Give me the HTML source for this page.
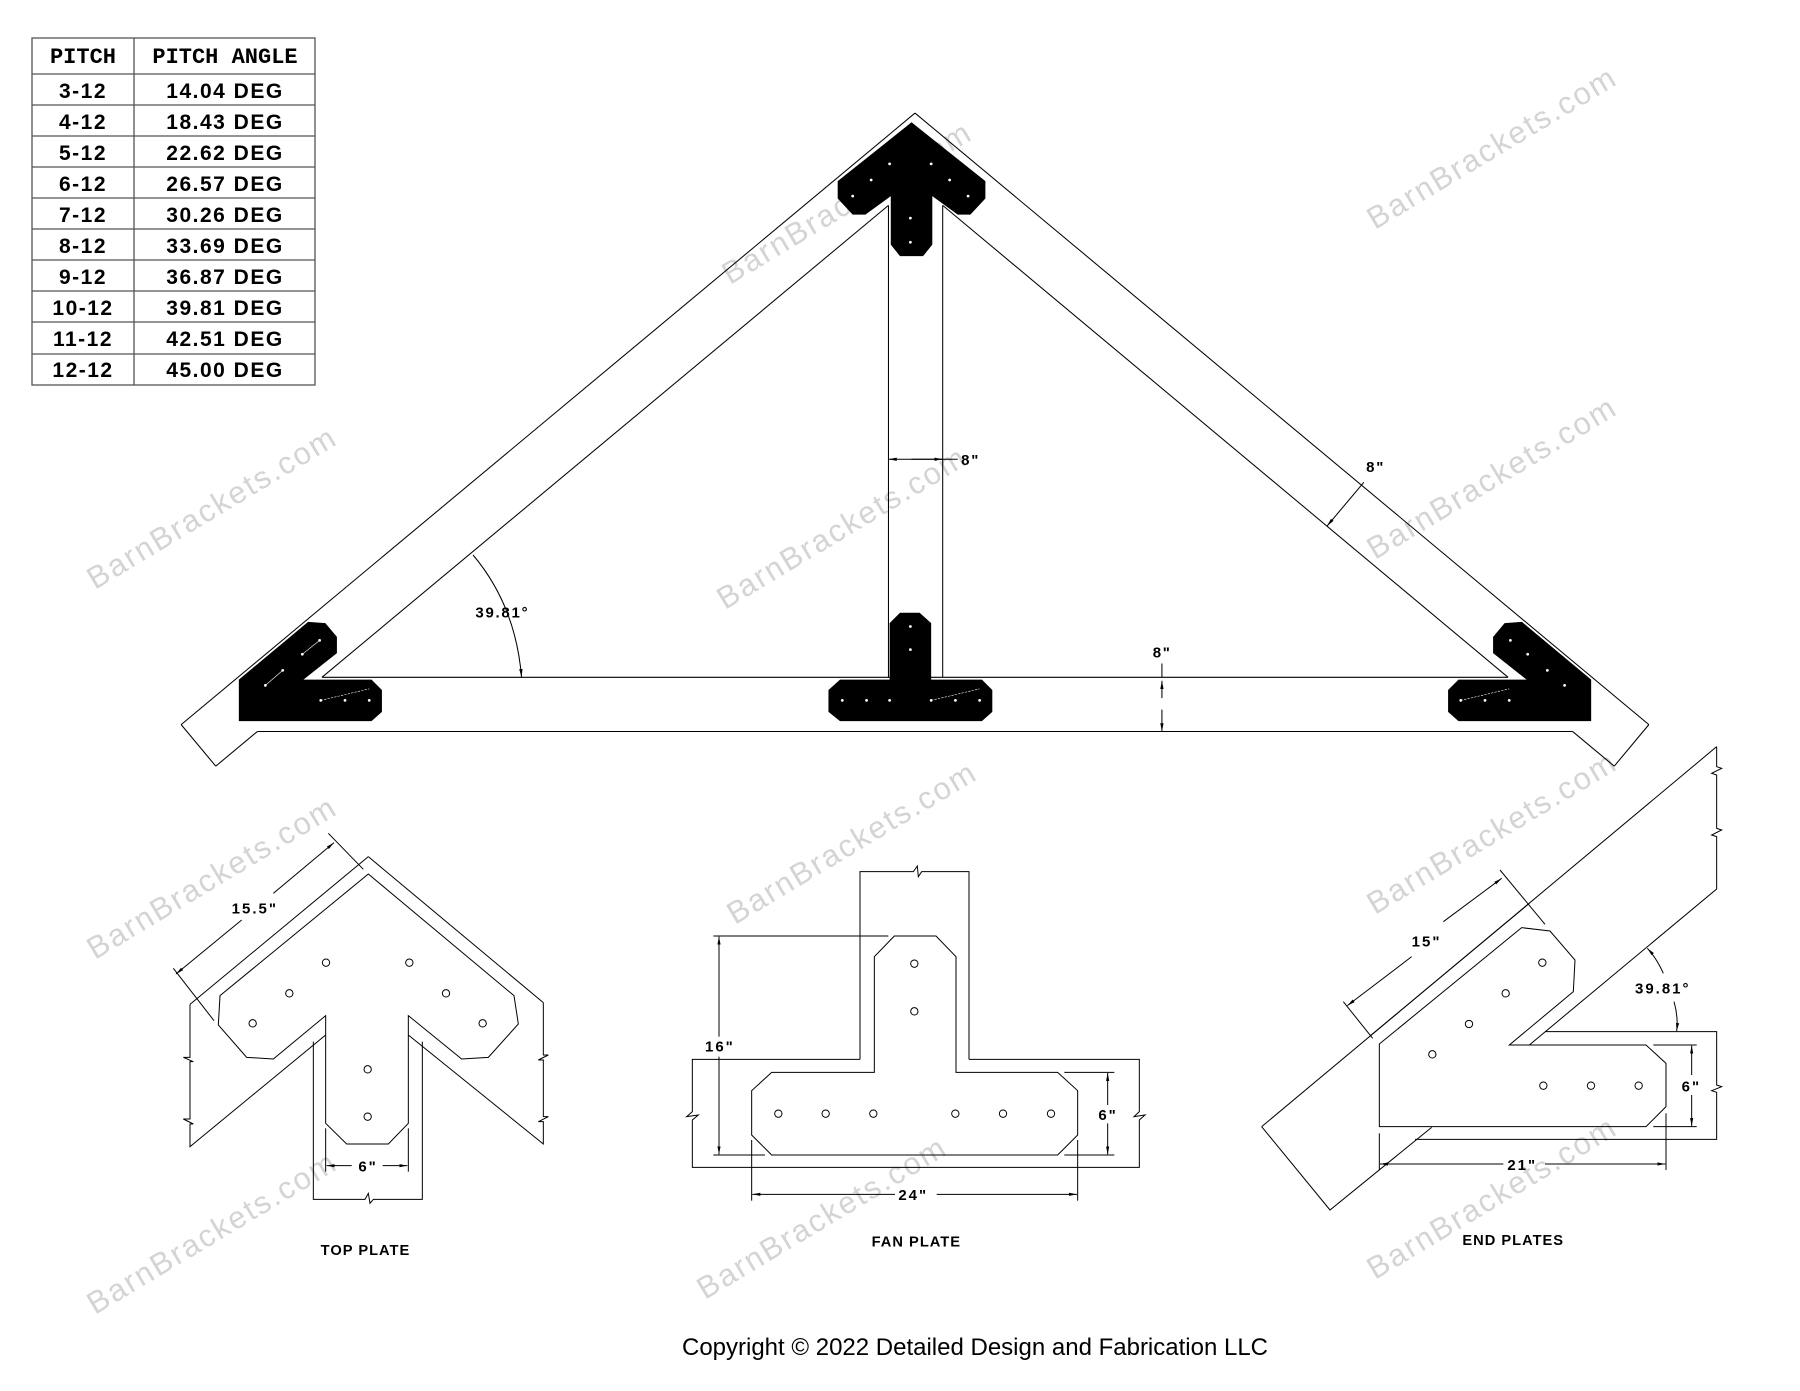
<!DOCTYPE html>
<html><head><meta charset="utf-8"><style>
html,body{margin:0;padding:0;background:#fff;}
svg{display:block;}
text{font-family:"Liberation Sans",sans-serif;}
.t{font-weight:bold;fill:#000;}
.wm{font-family:"Liberation Sans",sans-serif;font-size:31px;fill:#d4d4d4;letter-spacing:2px;}
</style></head><body>
<svg width="1800" height="1391" viewBox="0 0 1800 1391" xmlns="http://www.w3.org/2000/svg">
<defs>
<marker id="ar" viewBox="0 0 10 10" refX="10" refY="5" markerWidth="8" markerHeight="8" orient="auto-start-reverse"><path d="M0,3 L10,5 L0,7 z" fill="#000"/></marker>
</defs>
<rect width="1800" height="1391" fill="#fff"/>

<g>
<text class="wm" transform="translate(95,590) rotate(-31)">BarnBrackets.com</text>
<text class="wm" transform="translate(730,285) rotate(-31)">BarnBrackets.com</text>
<text class="wm" transform="translate(1375,230) rotate(-31)">BarnBrackets.com</text>
<text class="wm" transform="translate(725,610) rotate(-31)">BarnBrackets.com</text>
<text class="wm" transform="translate(1375,560) rotate(-31)">BarnBrackets.com</text>
<text class="wm" transform="translate(95,960) rotate(-31)">BarnBrackets.com</text>
<text class="wm" transform="translate(735,925) rotate(-31)">BarnBrackets.com</text>
<text class="wm" transform="translate(1375,915) rotate(-31)">BarnBrackets.com</text>
<text class="wm" transform="translate(95,1315) rotate(-31)">BarnBrackets.com</text>
<text class="wm" transform="translate(705,1300) rotate(-31)">BarnBrackets.com</text>
<text class="wm" transform="translate(1375,1280) rotate(-31)">BarnBrackets.com</text>
</g>

<g stroke="#555" stroke-width="1.3" fill="none">
<rect x="32" y="38" width="283" height="347"/>
<line x1="134" y1="38" x2="134" y2="385"/>
<line x1="32" y1="74" x2="315" y2="74"/>
<line x1="32" y1="105" x2="315" y2="105"/>
<line x1="32" y1="136" x2="315" y2="136"/>
<line x1="32" y1="167" x2="315" y2="167"/>
<line x1="32" y1="198" x2="315" y2="198"/>
<line x1="32" y1="229" x2="315" y2="229"/>
<line x1="32" y1="260" x2="315" y2="260"/>
<line x1="32" y1="291" x2="315" y2="291"/>
<line x1="32" y1="322" x2="315" y2="322"/>
<line x1="32" y1="354" x2="315" y2="354"/>
</g>
<g font-size="21" fill="#000" font-weight="bold">
<text x="83" y="63" text-anchor="middle" style="font-family:'Liberation Mono',monospace;font-weight:bold;font-size:22px">PITCH</text>
<text x="225" y="63" text-anchor="middle" style="font-family:'Liberation Mono',monospace;font-weight:bold;font-size:22px">PITCH ANGLE</text>
<g text-anchor="middle" letter-spacing="1.5">
<text x="83" y="98">3-12</text><text x="225" y="98">14.04 DEG</text>
<text x="83" y="129">4-12</text><text x="225" y="129">18.43 DEG</text>
<text x="83" y="160">5-12</text><text x="225" y="160">22.62 DEG</text>
<text x="83" y="191">6-12</text><text x="225" y="191">26.57 DEG</text>
<text x="83" y="222">7-12</text><text x="225" y="222">30.26 DEG</text>
<text x="83" y="253">8-12</text><text x="225" y="253">33.69 DEG</text>
<text x="83" y="284">9-12</text><text x="225" y="284">36.87 DEG</text>
<text x="83" y="315">10-12</text><text x="225" y="315">39.81 DEG</text>
<text x="83" y="346">11-12</text><text x="225" y="346">42.51 DEG</text>
<text x="83" y="377">12-12</text><text x="225" y="377">45.00 DEG</text>
</g></g>

<g transform="scale(1.15385)">
<g stroke="#000" stroke-width="0.9" fill="none">
<line x1="793" y1="98" x2="157" y2="628"/>
<line x1="157" y1="628" x2="187" y2="664"/>
<line x1="187" y1="664" x2="223" y2="634"/>
<line x1="279" y1="587" x2="770" y2="178"/>
<line x1="793" y1="98" x2="1429" y2="628"/>
<line x1="1429" y1="628" x2="1399" y2="664"/>
<line x1="1399" y1="664" x2="1363" y2="634"/>
<line x1="1307" y1="587" x2="817" y2="178"/>
<line x1="279" y1="587" x2="1307" y2="587"/>
<line x1="223" y1="634" x2="1363" y2="634"/>
<line x1="770" y1="178" x2="770" y2="587"/>
<line x1="817" y1="178" x2="817" y2="587"/>
</g>
<g fill="#000">
<polygon points="790,106 726,157 726,172 739,186 750,186 772,170 772,212 780,222 800,222 808,212 808,170 830,186 841,186 854,172 854,157"/>
<polygon points="267,539 282,540 292,552 292,566 263,589 322,589 331,598 331,617 322,625 207,625 207,589"/>
<polygon points="1319,539 1304,540 1294,552 1294,566 1323,589 1264,589 1255,598 1255,617 1264,625 1379,625 1379,589"/>
<polygon points="780,531 797,531 807,540 807,589 851,589 860,598 860,617 851,625 728,625 718,617 718,598 728,589 771,589 771,540"/>
</g>
<g fill="#fff">
<circle cx="771" cy="142" r="1.2"/><circle cx="755" cy="156" r="1.2"/><circle cx="739" cy="170" r="1.2"/>
<circle cx="807" cy="142" r="1.2"/><circle cx="823" cy="156" r="1.2"/><circle cx="839" cy="170" r="1.2"/>
<circle cx="789" cy="189" r="1.2"/><circle cx="789" cy="210" r="1.2"/>
<circle cx="230" cy="594" r="1.2"/><circle cx="245" cy="581" r="1.2"/><circle cx="262" cy="567" r="1.2"/><circle cx="277" cy="555" r="1.2"/>
<circle cx="278" cy="607" r="1.2"/><circle cx="299" cy="607" r="1.2"/><circle cx="320" cy="607" r="1.2"/>
<circle cx="1356" cy="594" r="1.2"/><circle cx="1341" cy="581" r="1.2"/><circle cx="1324" cy="567" r="1.2"/><circle cx="1309" cy="555" r="1.2"/>
<circle cx="1308" cy="607" r="1.2"/><circle cx="1287" cy="607" r="1.2"/><circle cx="1266" cy="607" r="1.2"/>
<circle cx="730" cy="607" r="1.2"/><circle cx="751" cy="607" r="1.2"/><circle cx="771" cy="607" r="1.2"/>
<circle cx="807" cy="607" r="1.2"/><circle cx="828" cy="607" r="1.2"/><circle cx="849" cy="607" r="1.2"/>
<circle cx="789" cy="543" r="1.2"/><circle cx="789" cy="563" r="1.2"/>
</g>
<g stroke="#fff" stroke-width="0.5" fill="none">
<line x1="230" y1="594" x2="245" y2="581"/><line x1="262" y1="567" x2="277" y2="555"/>
<line x1="278" y1="607" x2="320" y2="597" stroke-dasharray="2,1"/>
<line x1="807" y1="607" x2="849" y2="597" stroke-dasharray="2,1"/>
<line x1="1266" y1="607" x2="1308" y2="597" stroke-dasharray="2,1"/>
</g>
<g stroke="#000" stroke-width="0.9" fill="none">
<line x1="770" y1="398" x2="830" y2="398" marker-start="url(#ar)"/>
<line x1="790" y1="398" x2="817" y2="398" marker-end="url(#ar)"/>
<line x1="1150" y1="456" x2="1182" y2="418" marker-start="url(#ar)"/>
<line x1="1007" y1="575" x2="1007" y2="587" />
<line x1="1007" y1="590" x2="1007" y2="605" marker-start="url(#ar)"/>
<line x1="1007" y1="615" x2="1007" y2="634" marker-end="url(#ar)"/>
<path d="M410,481 Q447,525 452,587" marker-end="url(#ar)"/>
</g>
<g class="t" font-size="13" letter-spacing="1.5">
<text x="833" y="403">8"</text>
<text x="1184" y="409">8"</text>
<text x="999" y="570">8"</text>
<text x="412" y="535">39.81°</text>
</g>
</g>

<g transform="translate(160,820) scale(0.33333)">
<g stroke="#000" stroke-width="3" fill="none">
<line x1="625" y1="110" x2="90" y2="553"/>
<line x1="625" y1="110" x2="1150" y2="548"/>
<polyline points="90,553 90,712 70,712 100,725 90,725 90,897 70,897 100,912 90,912 90,980 497,645"/>
<polyline points="1150,548 1150,705 1165,705 1135,720 1150,720 1150,890 1165,890 1135,905 1150,905 1150,972 745,645"/>
<polyline points="460,665 460,1138 615,1138 625,1120 630,1150 640,1138 787,1138 787,665"/>
<polygon points="625,162 180,527 175,615 260,712 340,717 497,587 497,910 560,972 685,972 745,910 745,587 905,717 985,712 1075,612 1062,527"/>
<line x1="40" y1="445" x2="162" y2="602"/>
<line x1="505" y1="40" x2="610" y2="148"/>
<line x1="48" y1="462" x2="245" y2="300" marker-start="url(#ar)"/>
<line x1="340" y1="220" x2="522" y2="68" marker-end="url(#ar)"/>
<line x1="497" y1="925" x2="497" y2="1055"/>
<line x1="745" y1="925" x2="745" y2="1055"/>
<line x1="500" y1="1037" x2="575" y2="1037" marker-start="url(#ar)"/>
<line x1="668" y1="1037" x2="742" y2="1037" marker-end="url(#ar)"/>
<circle cx="498" cy="428" r="11"/><circle cx="748" cy="428" r="11"/><circle cx="388" cy="520" r="11"/><circle cx="858" cy="520" r="11"/>
<circle cx="278" cy="610" r="11"/><circle cx="968" cy="610" r="11"/><circle cx="623" cy="748" r="11"/><circle cx="623" cy="890" r="11"/>
</g>
<g class="t" font-size="45" letter-spacing="6">
<text x="215" y="280">15.5"</text>
<text x="595" y="1055">6"</text>
<text x="482" y="1305" font-size="44" letter-spacing="3">TOP PLATE</text>
</g>
</g>

<g transform="translate(680,860) scale(0.33333)">
<g stroke="#000" stroke-width="3" fill="none">
<polyline points="540,598 540,35 700,35 712,18 715,50 725,35 867,35 867,598"/>
<polyline points="540,598 37,598 37,755 20,770 55,765 37,780 37,922 1378,922 1378,780 1395,765 1362,770 1378,755 1378,598 867,598"/>
<polygon points="643,228 768,228 828,290 828,637 1133,637 1193,692 1193,825 1133,885 275,885 215,825 215,692 275,637 583,637 583,290"/>
<circle cx="703" cy="311" r="11"/><circle cx="703" cy="454" r="11"/>
<circle cx="295" cy="761" r="11"/><circle cx="437" cy="761" r="11"/><circle cx="580" cy="761" r="11"/>
<circle cx="826" cy="761" r="11"/><circle cx="969" cy="761" r="11"/><circle cx="1113" cy="761" r="11"/>
<line x1="100" y1="228" x2="625" y2="228"/>
<line x1="100" y1="885" x2="255" y2="885"/>
<line x1="117" y1="230" x2="117" y2="530" marker-start="url(#ar)"/>
<line x1="117" y1="590" x2="117" y2="883" marker-end="url(#ar)"/>
<line x1="1153" y1="637" x2="1303" y2="637"/>
<line x1="1153" y1="885" x2="1303" y2="885"/>
<line x1="1283" y1="639" x2="1283" y2="735" marker-start="url(#ar)"/>
<line x1="1283" y1="790" x2="1283" y2="883" marker-end="url(#ar)"/>
<line x1="215" y1="840" x2="215" y2="1022"/>
<line x1="1193" y1="840" x2="1193" y2="1022"/>
<line x1="217" y1="1003" x2="645" y2="1003" marker-start="url(#ar)"/>
<line x1="770" y1="1003" x2="1191" y2="1003" marker-end="url(#ar)"/>
</g>
<g class="t" font-size="45" letter-spacing="6">
<text x="75" y="575">16"</text>
<text x="1255" y="780">6"</text>
<text x="655" y="1020">24"</text>
<text x="575" y="1160" font-size="44" letter-spacing="3">FAN PLATE</text>
</g>
</g>

<g transform="translate(1250,740) scale(0.33333)">
<g stroke="#000" stroke-width="3" fill="none">
<line x1="35" y1="1160" x2="1400" y2="20"/>
<polyline points="1400,20 1400,80 1415,85 1385,100 1400,105 1400,265 1415,270 1385,285 1400,290 1400,447 838,915"/>
<line x1="360" y1="888" x2="838" y2="490"/>
<polyline points="35,1160 240,1410 545,1162"/>
<polyline points="885,875 1400,875 1400,1035 1415,1040 1385,1052 1400,1057 1400,1198 495,1198"/>
<polygon points="388,912 815,563 900,573 975,660 970,755 778,915 1188,915 1248,970 1248,1100 1188,1160 388,1160"/>
<circle cx="877" cy="668" r="11"/><circle cx="767" cy="760" r="11"/><circle cx="657" cy="852" r="11"/><circle cx="547" cy="943" r="11"/>
<circle cx="880" cy="1037" r="11"/><circle cx="1023" cy="1037" r="11"/><circle cx="1166" cy="1037" r="11"/>
<line x1="280" y1="785" x2="368" y2="895"/>
<line x1="750" y1="390" x2="885" y2="553"/>
<line x1="292" y1="797" x2="485" y2="650" marker-start="url(#ar)"/>
<line x1="580" y1="545" x2="755" y2="415" marker-end="url(#ar)"/>
<line x1="1210" y1="915" x2="1340" y2="915"/>
<line x1="1210" y1="1160" x2="1340" y2="1160"/>
<line x1="1325" y1="917" x2="1325" y2="1005" marker-start="url(#ar)"/>
<line x1="1325" y1="1065" x2="1325" y2="1158" marker-end="url(#ar)"/>
<line x1="388" y1="1180" x2="388" y2="1290"/>
<line x1="1248" y1="1120" x2="1248" y2="1290"/>
<line x1="390" y1="1272" x2="760" y2="1272" marker-start="url(#ar)"/>
<line x1="885" y1="1272" x2="1246" y2="1272" marker-end="url(#ar)"/>
<path d="M1240,700 Q1220,655 1192,625" marker-end="url(#ar)"/>
<path d="M1272,785 Q1285,830 1280,873" marker-end="url(#ar)"/>
</g>
<g class="t" font-size="45" letter-spacing="6">
<text x="485" y="620">15"</text>
<text x="1155" y="760">39.81°</text>
<text x="1295" y="1055">6"</text>
<text x="772" y="1290">21"</text>
<text x="637" y="1515" font-size="44" letter-spacing="3">END PLATES</text>
</g>
</g>

<text x="975" y="1355" text-anchor="middle" font-size="24" fill="#000" style="font-family:'Liberation Sans',sans-serif">Copyright © 2022 Detailed Design and Fabrication LLC</text>
</svg>
</body></html>
